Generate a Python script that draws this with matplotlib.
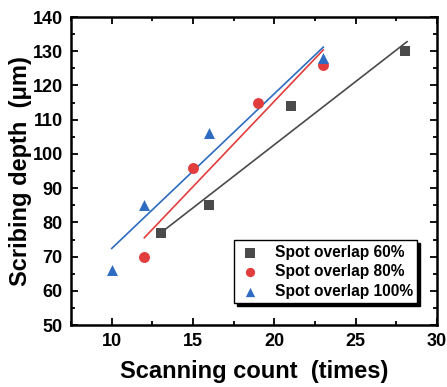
import matplotlib
matplotlib.use("Agg")
import matplotlib.pyplot as plt
from matplotlib.ticker import MultipleLocator

plt.rcParams['font.family'] = ['Liberation Sans', 'DejaVu Sans']
plt.rcParams['font.weight'] = 'bold'

labels = ['Spot overlap 60%', 'Spot overlap 80%', 'Spot overlap 100%']
x60 = [13, 16, 21, 28]
y60 = [77, 85, 114, 130]
x80 = [12, 15, 19, 23]
y80 = [70, 96, 115, 126]
x100 = [10, 12, 16, 23]
y100 = [66, 85, 106, 128]
# fitted line endpoints
fx60 = [13, 28.15]
fy60 = [76.9, 132.8]
fx80 = [12, 23]
fy80 = [75.5, 130.4]
fx100 = [10, 23]
fy100 = [72.4, 131.2]

colors = ['#4a4a4a', '#e23d3d', '#2d6cc0']
markers = ['s', 'o', '^']

fig = plt.figure(figsize=(4.47, 3.87), dpi=100)
ax = fig.add_axes([0.159, 0.160, 0.819, 0.796])

series = [(x60, y60, fx60, fy60), (x80, y80, fx80, fy80), (x100, y100, fx100, fy100)]
for (xs, ys, fx, fy), c, m, lab in zip(series, colors, markers, labels):
    ax.plot(fx, fy, color=c, lw=1.2)
    ax.scatter(xs, ys, color=c, marker=m, s=62, label=lab, zorder=3, linewidths=0)

ax.set_xlim(7.5, 30)
ax.set_ylim(50, 140)
ax.xaxis.set_major_locator(MultipleLocator(5))
ax.xaxis.set_minor_locator(MultipleLocator(2.5))
ax.yaxis.set_major_locator(MultipleLocator(10))
ax.yaxis.set_minor_locator(MultipleLocator(5))
ax.tick_params(which='both', direction='in', top=True, right=True, width=1.3)
ax.tick_params(which='major', length=5, labelsize=13, pad=6)
ax.tick_params(which='minor', length=3)
for sp in ax.spines.values():
    sp.set_linewidth(1.8)
for t in ax.get_xticklabels() + ax.get_yticklabels():
    t.set_fontweight('bold')

ax.set_xlabel('Scanning count  (times)', fontsize=17, fontweight='bold', labelpad=7)
ax.set_ylabel('Scribing depth  (\u03bcm)', fontsize=17, fontweight='bold', labelpad=0)

leg = ax.legend(loc='lower right', bbox_to_anchor=(0.967, 0.045), fontsize=11.2,
                frameon=True, fancybox=False, shadow={'color': 'black', 'alpha': 1},
                edgecolor='black', handletextpad=0.9, handlelength=1.4,
                borderpad=0.3, labelspacing=0.28, markerscale=0.85)
leg.get_frame().set_linewidth(1.0)
for t in leg.get_texts():
    t.set_fontweight('bold')

fig.savefig('out.png', dpi=100)
